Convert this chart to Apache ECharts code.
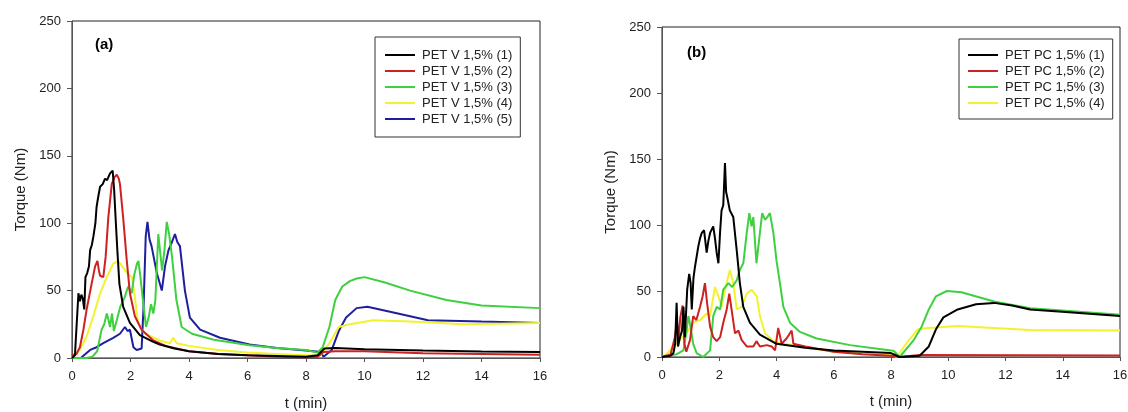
<!DOCTYPE html>
<html>
<head>
<meta charset="utf-8">
<script src="https://cdn.jsdelivr.net/npm/echarts@6/dist/echarts.min.js"></script>
<style>html,body{margin:0;padding:0;background:#fff}#c{width:1128px;height:412px}</style>
</head>
<body>
<div id="c"></div>
<script>
// ---------- Panel (a) : PET V 1,5% ----------
var namesA = ['PET V 1,5% (1)','PET V 1,5% (2)','PET V 1,5% (3)','PET V 1,5% (4)','PET V 1,5% (5)'];
var tA1 = [0,0.1,0.16,0.22,0.27,0.32,0.37,0.42,0.46,0.52,0.58,0.62,0.68,0.73,0.8,0.84,0.9,0.96,1.05,1.13,1.2,1.3,1.35,1.39,1.44,1.5,1.55,1.62,1.75,1.98,2.32,2.78,3.0,3.5,4.0,5.0,6.0,7.0,8.0,8.4,8.63,9.0,10,12,14,16];
var vA1 = [0,2,25,48,42,47,44,36,60,63,68,80,84,90,100,112,120,127,129,133,132,137,136,139,125,100,80,55,38,26,17,12,10,7,5,3,2,1.5,1,2,7,7.4,6.5,5.5,4.8,4.5];
var tA2 = [0,0.15,0.27,0.39,0.5,0.67,0.79,0.87,0.92,0.96,1.07,1.15,1.24,1.36,1.45,1.53,1.6,1.64,1.75,1.87,1.98,2.15,2.38,2.78,3.2,4.0,5.0,6.0,7.0,8.0,8.4,8.6,9.0,10,12,14,16];
var vA2 = [2,3,8,21,36,55,68,72,65,61,60,75,104,129,134,136,133,129,104,73,48,31,21,13,9,5,3,2,1,0.5,1,4.5,5,5,3.5,3,2.5];
var tA3 = [0,0.5,0.7,0.86,1.01,1.1,1.19,1.25,1.3,1.37,1.43,1.53,1.65,1.8,1.92,2.04,2.13,2.22,2.27,2.34,2.45,2.53,2.62,2.7,2.78,2.85,2.95,3.08,3.16,3.24,3.32,3.42,3.57,3.75,4.1,4.85,6.07,7.0,8.0,8.4,8.57,8.8,9.0,9.24,9.5,9.73,10.0,10.7,11.56,12.8,14.0,16];
var vA3 = [0,0,1,5,21,25,33,28,23,33,20,28,38,45,53,48,62,70,72,60,38,23,30,40,33,43,92,65,80,101,92,75,43,23,18,13.5,9.5,7.5,6,4,8,23,43,53,57,59,60,56,50,43,39,37];
var tA4 = [0,0.27,0.5,0.73,0.96,1.19,1.41,1.58,1.75,1.92,2.05,2.15,2.25,2.35,2.5,3.0,3.35,3.46,3.58,4.0,5.0,6.0,7.0,8.0,8.5,8.8,9.12,9.5,10.3,11.56,13.4,16];
var vA4 = [0,6,16,31,48,60,70,72,67,62,60,45,27,22,18,13,11,15,11,9,6,4,3,2,2,11,23,25,28,27,25,26];
var tA5 = [0,0.3,0.62,0.84,1.07,1.41,1.64,1.81,1.9,1.98,2.1,2.21,2.38,2.45,2.52,2.58,2.65,2.72,2.9,3.07,3.18,3.3,3.4,3.52,3.6,3.69,3.86,4.03,4.38,5.06,6.07,7.0,8.0,8.5,8.6,8.88,9.12,9.37,9.73,10.1,10.95,12.17,14,16];
var vA5 = [0,0,6,8,11,15,18,23,20,21,8,6,7,40,90,101,88,83,63,50,68,80,85,92,86,83,50,30,21,15,10,7.5,5.5,4.5,1,6,20,30,37,38,34,28,27,26];

// ---------- Panel (b) : PET PC 1,5% ----------
var namesB = ['PET PC 1,5% (1)','PET PC 1,5% (2)','PET PC 1,5% (3)','PET PC 1,5% (4)'];
var tB1 = [0,0.3,0.4,0.46,0.51,0.56,0.63,0.7,0.75,0.8,0.88,0.95,1.0,1.04,1.1,1.15,1.27,1.33,1.39,1.47,1.56,1.62,1.68,1.79,1.85,1.91,1.97,2.03,2.08,2.14,2.2,2.24,2.28,2.37,2.49,2.61,2.72,2.84,3.07,3.42,4.0,5.0,6.0,7.0,8.0,8.3,9.0,9.32,9.57,9.83,10.33,10.97,11.6,12.23,12.86,14.1,16];
var vB1 = [0,1,3,10,41,8,15,20,38,15,51,63,56,36,60,68,84,90,94,96,79,88,94,99,90,79,71,95,111,115,147,125,121,111,106,81,56,38,26,17,10,7,5,4,3,0,1,8,21,30,36,40,41,39,36,34,31];
var tB2 = [0,0.3,0.45,0.52,0.58,0.64,0.72,0.78,0.85,0.98,1.09,1.2,1.33,1.42,1.5,1.58,1.68,1.79,1.91,2.03,2.14,2.26,2.35,2.43,2.55,2.67,2.78,2.96,3.19,3.3,3.42,3.66,3.83,3.95,4.06,4.18,4.35,4.53,4.59,5.0,6.0,7.0,8.0,8.3,9.0,16];
var vB2 = [0,2,15,27,14,30,39,10,4,13,31,28,38,46,56,40,23,15,12,15,26,36,48,36,18,20,13,8,8,12,8,9,8,5,22,10,14,20,10,8,4,2,1,0,1.5,1.2];
var tB3 = [0,0.5,0.75,0.86,0.92,0.98,1.09,1.21,1.44,1.68,1.79,1.91,2.03,2.14,2.32,2.45,2.61,2.72,2.84,2.96,3.05,3.13,3.19,3.3,3.42,3.5,3.6,3.68,3.77,3.89,4.0,4.12,4.24,4.47,4.82,5.4,6.57,8.0,8.1,8.3,8.8,9.07,9.32,9.57,9.95,10.46,11.6,12.86,14.1,16];
var vB3 = [0,2,5,20,31,25,10,3,0,5,31,38,36,51,56,53,58,66,71,94,109,99,106,71,94,109,104,106,109,94,73,56,38,26,19,14,9,5,4.5,0,13,23,36,46,50,49,42,37,35,32];
var tB4 = [0,0.2,0.4,0.63,0.86,1.09,1.33,1.56,1.68,1.85,1.97,2.08,2.2,2.37,2.49,2.61,2.78,2.96,3.13,3.31,3.42,3.6,3.89,4.24,4.82,6.0,7.0,8.0,8.2,8.56,8.94,9.32,10.33,11.6,12.86,16];
var vB4 = [0,3,8,13,18,26,28,33,31,53,46,38,51,66,56,36,38,48,51,46,31,18,12,10,8,4,2.5,1.5,0,11,21,22,23.5,22,20.5,20];

var xTicks = [0,2,4,6,8,10,12,14,16];
var yTicks = [0,50,100,150,200,250];

var colorsA = ['#000000','#cc2222','#3fd03f','#f2f230','#1e1e9e'];
var colorsB = ['#000000','#cc2222','#3fd03f','#f2f230'];

function zip(t, v) { var o = []; for (var i = 0; i < t.length; i++) o.push([t[i], v[i]]); return o; }

var FONT = 'Liberation Sans, Arial, sans-serif';
var seriesA = [zip(tA1,vA1), zip(tA2,vA2), zip(tA3,vA3), zip(tA4,vA4), zip(tA5,vA5)];
var seriesB = [zip(tB1,vB1), zip(tB2,vB2), zip(tB3,vB3), zip(tB4,vB4)];

function xAx(idx, gap) {
  return {
    type: 'value', gridIndex: idx, min: xTicks[0], max: xTicks[xTicks.length-1], interval: 2,
    name: 't (min)', nameLocation: 'middle', nameGap: gap,
    nameTextStyle: { fontSize: 15, fontFamily: FONT, color: '#222' },
    axisLine: { lineStyle: { color: '#555', width: 1 } },
    axisTick: { show: true, inside: false, length: 4, lineStyle: { color: '#555' } },
    axisLabel: { fontSize: 13, fontFamily: FONT, color: '#222', margin: 12 },
    splitLine: { show: false }
  };
}
function yAx(idx, gap) {
  return {
    type: 'value', gridIndex: idx, min: yTicks[0], max: yTicks[yTicks.length-1], interval: 50,
    name: 'Torque (Nm)', nameLocation: 'middle', nameGap: gap,
    nameTextStyle: { fontSize: 15, fontFamily: FONT, color: '#222' },
    axisLine: { show: true, lineStyle: { color: '#555', width: 1 } },
    axisTick: { show: true, inside: false, length: 5, lineStyle: { color: '#555' } },
    axisLabel: { fontSize: 13, fontFamily: FONT, color: '#222', margin: 11 },
    splitLine: { show: false }
  };
}

var series = [];
seriesA.forEach(function (d, i) {
  series.push({ name: namesA[i], type: 'line', xAxisIndex: 0, yAxisIndex: 0, data: d,
    showSymbol: false, lineStyle: { width: 2, color: colorsA[i] }, itemStyle: { color: colorsA[i] }, z: 10 - i, animation: false });
});
seriesB.forEach(function (d, i) {
  series.push({ name: namesB[i], type: 'line', xAxisIndex: 1, yAxisIndex: 1, data: d,
    showSymbol: false, lineStyle: { width: 2, color: colorsB[i] }, itemStyle: { color: colorsB[i] }, z: 10 - i, animation: false });
});

function legendCfg(names, left, top, pad) {
  return {
    data: names, orient: 'vertical', left: left, top: top, icon: 'rect', itemWidth: 30, itemHeight: 2,
    itemGap: 2, padding: pad, borderColor: '#333', borderWidth: 1, selectedMode: false,
    textStyle: { fontSize: 13, lineHeight: 14, fontFamily: FONT, color: '#222', padding: [0,0,0,2] }
  };
}

var chart = echarts.init(document.getElementById('c'), null, { renderer: 'canvas' });
chart.setOption({
  backgroundColor: '#ffffff',
  animation: false,
  title: [
    { text: '(a)', left: 95, top: 37, padding: 0, textStyle: { fontSize: 15, fontWeight: 'bold', fontFamily: FONT, color: '#000' } },
    { text: '(b)', left: 687, top: 45, padding: 0, textStyle: { fontSize: 15, fontWeight: 'bold', fontFamily: FONT, color: '#000' } }
  ],
  grid: [
    { left: 72, right: 588, top: 21, bottom: 54, show: true, borderColor: '#222', borderWidth: 1, backgroundColor: 'transparent', containLabel: false, outerBoundsMode: 'none' },
    { left: 662, right: 8, top: 27, bottom: 55, show: true, borderColor: '#222', borderWidth: 1, backgroundColor: 'transparent', containLabel: false, outerBoundsMode: 'none' }
  ],
  xAxis: [xAx(0, 38), xAx(1, 37)],
  yAxis: [yAx(0, 44), yAx(1, 44)],
  legend: [
    legendCfg(namesA, 375, 37, [11, 8, 11, 10]),
    legendCfg(namesB, 959, 39, [9, 8, 9, 9])
  ],
  series: series
});
</script>
</body>
</html>
